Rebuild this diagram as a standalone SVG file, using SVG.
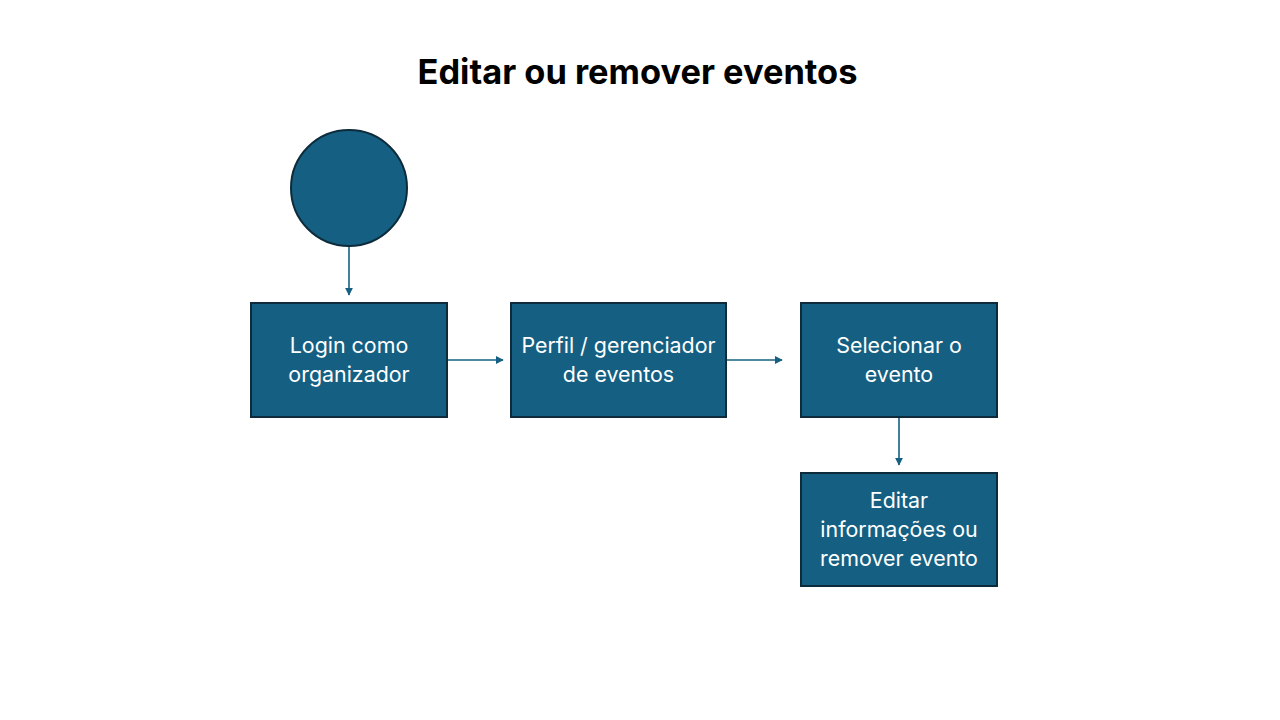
<svg xmlns="http://www.w3.org/2000/svg" width="1280" height="720" viewBox="0 0 1280 720">
<style>
.n{fill:#156082;stroke:#0d2b3b;stroke-width:2}
.t{fill:#ffffff;font-family:Inter,"Open Sans","Liberation Sans",sans-serif;font-size:21.4px;text-anchor:middle}
.c{stroke:#156082;stroke-width:1.6;fill:none;marker-end:url(#a)}
</style>
<defs>
<marker id="a" viewBox="0 0 10 10" refX="9" refY="5" markerWidth="5" markerHeight="5" orient="auto" markerUnits="strokeWidth">
<path d="M0,0 L10,5 L0,10 z" fill="#156082"/>
</marker>
</defs>
<rect width="1280" height="720" fill="#ffffff"/>
<text x="637.5" y="84" font-family="Inter,'Open Sans','Liberation Sans',sans-serif" font-size="34.4" font-weight="bold" text-anchor="middle" fill="#000">Editar ou remover eventos</text>
<g id="start"><circle class="n" cx="349" cy="188" r="58"/></g>
<g id="login"><rect class="n" x="251" y="303" width="196" height="114"/>
<text class="t" x="349" y="353">Login como</text><text class="t" x="349" y="382">organizador</text></g>
<g id="perfil"><rect class="n" x="511" y="303" width="215" height="114"/>
<text class="t" x="618.5" y="353">Perfil / gerenciador</text><text class="t" x="618.5" y="382">de eventos</text></g>
<g id="selecionar"><rect class="n" x="801" y="303" width="196" height="114"/>
<text class="t" x="899" y="353">Selecionar o</text><text class="t" x="899" y="382">evento</text></g>
<g id="editar"><rect class="n" x="801" y="473" width="196" height="113"/>
<text class="t" x="899" y="508">Editar</text><text class="t" x="899" y="537">informações ou</text><text class="t" x="899" y="566">remover evento</text></g>
<g id="connectors">
<line class="c" x1="349" y1="247" x2="349" y2="295"/>
<line class="c" x1="448" y1="360" x2="503" y2="360"/>
<line class="c" x1="727" y1="360" x2="782" y2="360"/>
<line class="c" x1="899" y1="418" x2="899" y2="465"/>
</g>
</svg>
